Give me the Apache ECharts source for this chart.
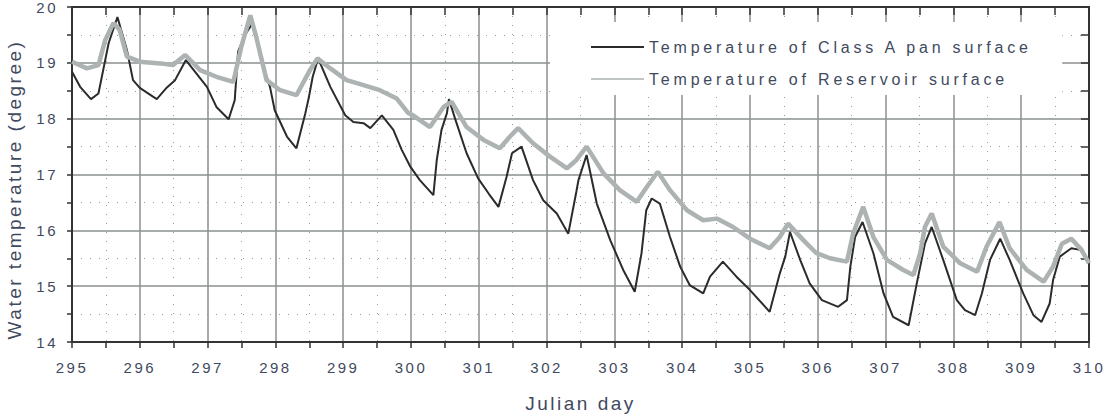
<!DOCTYPE html>
<html>
<head>
<meta charset="utf-8">
<script src="https://cdn.jsdelivr.net/npm/echarts@6/dist/echarts.min.js"></script>
<style>
  html, body { margin: 0; padding: 0; background: #fff; }
  #chart { width: 1104px; height: 414px; }
  #chart text { letter-spacing: 2.5px; }
  #chart text[style*="16px"] { letter-spacing: 3.8px; }
</style>
</head>
<body>
<div id="chart"></div>
<script>
  // Class A pan surface temperature (Julian day, degree)
  let panDays = [295.00, 295.12, 295.28, 295.39, 295.46, 295.54, 295.67, 295.81, 295.90, 296.00,
    296.25, 296.40, 296.52, 296.68, 296.99, 297.13, 297.31, 297.40, 297.45, 297.55,
    297.67, 297.78, 297.92, 297.99, 298.17, 298.31, 298.44, 298.49, 298.55, 298.63,
    298.81, 299.03, 299.15, 299.30, 299.40, 299.57, 299.74, 299.86, 299.99, 300.13,
    300.33, 300.38, 300.45, 300.53, 300.56, 300.65, 300.82, 300.99, 301.15, 301.29,
    301.41, 301.49, 301.63, 301.80, 301.95, 302.15, 302.32, 302.44, 302.47, 302.59,
    302.74, 302.94, 303.13, 303.30, 303.40, 303.47, 303.55, 303.67, 303.82, 303.97,
    304.11, 304.31, 304.41, 304.60, 304.80, 305.00, 305.29, 305.44, 305.52, 305.59,
    305.74, 305.88, 306.06, 306.30, 306.43, 306.48, 306.55, 306.66, 306.82, 306.97,
    307.11, 307.34, 307.46, 307.58, 307.68, 307.85, 308.05, 308.17, 308.32, 308.42,
    308.54, 308.69, 308.83, 309.03, 309.18, 309.30, 309.42, 309.47, 309.57, 309.74,
    309.87, 310.00];
  let panTemps = [18.84, 18.57, 18.35, 18.45, 18.87, 19.35, 19.82, 19.23, 18.69, 18.55,
    18.35, 18.56, 18.69, 19.05, 18.57, 18.21, 17.99, 18.33, 19.20, 19.50,
    19.72, 19.10, 18.57, 18.15, 17.68, 17.47, 18.09, 18.36, 18.75, 19.08,
    18.57, 18.06, 17.94, 17.92, 17.83, 18.06, 17.80, 17.45, 17.14, 16.90,
    16.63, 17.26, 17.80, 18.10, 18.35, 18.00, 17.38, 16.93, 16.65, 16.42,
    16.96, 17.38, 17.50, 16.90, 16.54, 16.30, 15.94, 16.70, 16.90, 17.35,
    16.48, 15.82, 15.29, 14.90, 15.59, 16.36, 16.57, 16.48, 15.88, 15.35,
    15.02, 14.87, 15.17, 15.44, 15.17, 14.93, 14.54, 15.23, 15.53, 15.97,
    15.47, 15.05, 14.75, 14.63, 14.75, 15.35, 15.88, 16.15, 15.59, 14.87,
    14.45, 14.30, 15.05, 15.76, 16.06, 15.47, 14.75, 14.57, 14.48, 14.87,
    15.47, 15.85, 15.47, 14.87, 14.48, 14.36, 14.69, 15.11, 15.53, 15.68,
    15.65, 15.42];

  // Reservoir surface temperature (Julian day, degree)
  let resDays = [295.00, 295.22, 295.39, 295.49, 295.61, 295.70, 295.81, 296.00, 296.30, 296.49,
    296.67, 296.89, 297.13, 297.38, 297.50, 297.63, 297.72, 297.87, 298.07, 298.31,
    298.51, 298.62, 298.81, 299.05, 299.30, 299.54, 299.79, 299.96, 300.03, 300.28,
    300.48, 300.60, 300.82, 301.07, 301.31, 301.46, 301.58, 301.80, 302.05, 302.30,
    302.44, 302.59, 302.84, 303.08, 303.33, 303.48, 303.64, 303.82, 304.07, 304.31,
    304.51, 304.75, 305.00, 305.29, 305.44, 305.56, 305.79, 305.98, 306.18, 306.43,
    306.52, 306.67, 306.82, 307.02, 307.26, 307.41, 307.51, 307.58, 307.68, 307.85,
    308.10, 308.35, 308.49, 308.68, 308.83, 309.08, 309.33, 309.47, 309.60, 309.74,
    309.89, 310.00];
  let resTemps = [19.02, 18.90, 18.96, 19.41, 19.71, 19.60, 19.11, 19.02, 18.99, 18.96,
    19.14, 18.87, 18.75, 18.66, 19.30, 19.85, 19.45, 18.69, 18.51, 18.42,
    18.87, 19.08, 18.90, 18.69, 18.60, 18.51, 18.36, 18.10, 18.06, 17.85,
    18.21, 18.30, 17.85, 17.62, 17.47, 17.68, 17.83, 17.56, 17.32, 17.11,
    17.26, 17.50, 17.02, 16.72, 16.51, 16.78, 17.05, 16.72, 16.36, 16.18,
    16.21, 16.06, 15.85, 15.68, 15.88, 16.12, 15.82, 15.59, 15.50, 15.44,
    15.94, 16.42, 15.88, 15.47, 15.29, 15.20, 15.59, 16.06, 16.30, 15.71,
    15.41, 15.26, 15.71, 16.15, 15.68, 15.29, 15.08, 15.35, 15.76, 15.85,
    15.65, 15.41];

  let seriesNames = ['Temperature of Class A pan surface', 'Temperature of Reservoir surface'];

  let textColor = '#3f4a60';
  let fontFamily = '"Liberation Sans", Arial, sans-serif';
  let frameColor = '#333';
  let majorGrid = { color: '#8a8f8f', width: 1.5 };
  let minorGrid = { color: '#9a9a9a', width: 1, type: [1, 8] };

  function pairs(xs, ys) {
    return xs.map((x, i) => [x, ys[i]]);
  }

  // the mirrored axis on the far side of the box: ticks only, pointing in
  function mirrorAxis(position, min, max) {
    return {
      type: 'value',
      position: position,
      min: min,
      max: max,
      interval: 1,
      axisLine: { show: true, onZero: false, lineStyle: { color: frameColor, width: 2 } },
      axisTick: { show: true, inside: true, length: 8, lineStyle: { color: frameColor, width: 1.5 } },
      minorTick: { show: true, splitNumber: 2, length: 8, lineStyle: { color: frameColor, width: 1.5 } },
      axisLabel: { show: false },
      splitLine: { show: false }
    };
  }

  let chart = echarts.init(document.getElementById('chart'), null, { renderer: 'svg' });

  let option = {
    animation: false,
    backgroundColor: '#fff',
    grid: {
      left: 72,
      right: 15,
      top: 7,
      bottom: 72,
      outerBoundsMode: 'none'
    },
    legend: {
      orient: 'vertical',
      left: 550,
      top: 22,
      padding: [17, 158, 8, 40],
      backgroundColor: '#fff',
      itemWidth: 53,
      itemHeight: 14,
      itemGap: 16,
      itemStyle: { opacity: 0 },
      textStyle: {
        fontSize: 16,
        color: textColor,
        fontFamily: fontFamily
      },
      data: [
        { name: seriesNames[0], lineStyle: { width: 2 } },
        { name: seriesNames[1], lineStyle: { width: 1.5 } }
      ]
    },
    xAxis: [{
      type: 'value',
      position: 'bottom',
      min: 295,
      max: 310,
      interval: 1,
      name: 'Julian day',
      nameLocation: 'middle',
      nameGap: 52,
      nameTextStyle: {
        fontSize: 19,
        color: textColor,
        fontFamily: fontFamily
      },
      axisLine: { show: true, onZero: false, lineStyle: { color: frameColor, width: 2 } },
      axisTick: { show: true, length: 6, lineStyle: { color: frameColor, width: 1.5 } },
      minorTick: { show: true, splitNumber: 2, length: 6, lineStyle: { color: frameColor, width: 1.5 } },
      axisLabel: {
        margin: 18,
        fontSize: 15,
        color: textColor,
        fontFamily: fontFamily
      },
      splitLine: { show: true, lineStyle: majorGrid },
      minorSplitLine: { show: true, lineStyle: minorGrid }
    }, mirrorAxis('top', 295, 310)],
    yAxis: [{
      type: 'value',
      position: 'left',
      min: 14,
      max: 20,
      interval: 1,
      name: 'Water temperature (degree)',
      nameLocation: 'middle',
      nameGap: 48,
      nameTextStyle: {
        fontSize: 19,
        color: textColor,
        fontFamily: fontFamily,
        padding: [0, 30, 0, 0]
      },
      axisLine: { show: true, onZero: false, lineStyle: { color: frameColor, width: 2 } },
      axisTick: { show: true, length: 5, lineStyle: { color: frameColor, width: 1.5 } },
      minorTick: { show: true, splitNumber: 2, length: 5, lineStyle: { color: frameColor, width: 1.5 } },
      axisLabel: {
        margin: 14,
        fontSize: 15,
        color: textColor,
        fontFamily: fontFamily
      },
      splitLine: { show: true, lineStyle: majorGrid },
      minorSplitLine: { show: true, lineStyle: minorGrid }
    }, mirrorAxis('right', 14, 20)],
    series: [{
      name: seriesNames[0],
      type: 'line',
      data: pairs(panDays, panTemps),
      symbol: 'none',
      color: '#2b2b2b',
      lineStyle: { width: 2, color: '#2b2b2b' }
    }, {
      name: seriesNames[1],
      type: 'line',
      data: pairs(resDays, resTemps),
      symbol: 'none',
      color: '#adb2b2',
      lineStyle: { width: 4.5, color: '#adb2b2' }
    }]
  };

  chart.setOption(option);
</script>
</body>
</html>
